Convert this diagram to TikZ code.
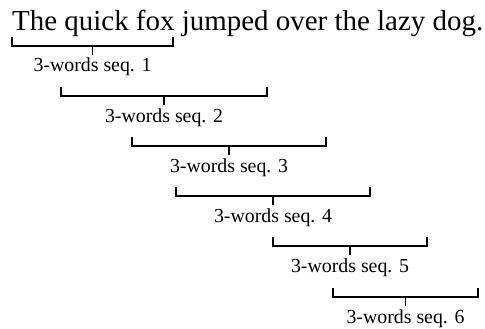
\documentclass[tikz,border=0pt]{standalone}
\usepackage{fontspec}
\setmainfont{Liberation Serif}
\newlength\sentwd
\newlength\labwd
\begin{document}
% font sizes chosen so the sentence and the labels get their set widths
\settowidth\sentwd{\fontsize{10pt}{12pt}\selectfont The quick fox jumped over the lazy dog.}%
\settowidth\labwd{\fontsize{10pt}{12pt}\selectfont 3-words seq. 1}%
\pgfmathsetmacro\sentfsloc{10*471/\sentwd}%
\pgfmathsetmacro\labfsloc{10*118/\labwd}%
\xdef\sentfs{\sentfsloc}%
\xdef\labfs{\labfsloc}%
\begin{tikzpicture}[x=1pt,y=-1pt,
    bracket/.style={line width=1.9pt, line cap=butt, line join=miter},
    sentence/.style={inner sep=0pt, anchor=base west,
      font=\fontsize{\sentfs pt}{\sentfs pt}\selectfont},
    seqlabel/.style={inner sep=0pt, anchor=base,
      font=\fontsize{\labfs pt}{\labfs pt}\selectfont}]
  \useasboundingbox (0,0) rectangle (485,329);
  \node[sentence] (sent) at (12,31) {The quick fox jumped over the lazy dog.};
  % one bracket per run of three words, with its label below
  \foreach \n/\xa/\xb/\yb in {1/12/173/46, 2/61/267/96, 3/132/326/146,
                              4/176/370/196, 5/273/427/246, 6/333/478/297}{
    \coordinate (L\n) at (\xa,\yb-9);
    \coordinate (R\n) at (\xb,\yb-9);
    \coordinate (M\n) at ({(\xa+\xb)/2},\yb);
    \draw[bracket] (L\n) -- ++(0,9) -| (R\n);
    \draw[bracket] (M\n) -- ++(0,9);
    \node[seqlabel] (S\n) at ({(\xa+\xb)/2},\yb+26) {3-words seq. \n};
  }
\end{tikzpicture}
\end{document}
